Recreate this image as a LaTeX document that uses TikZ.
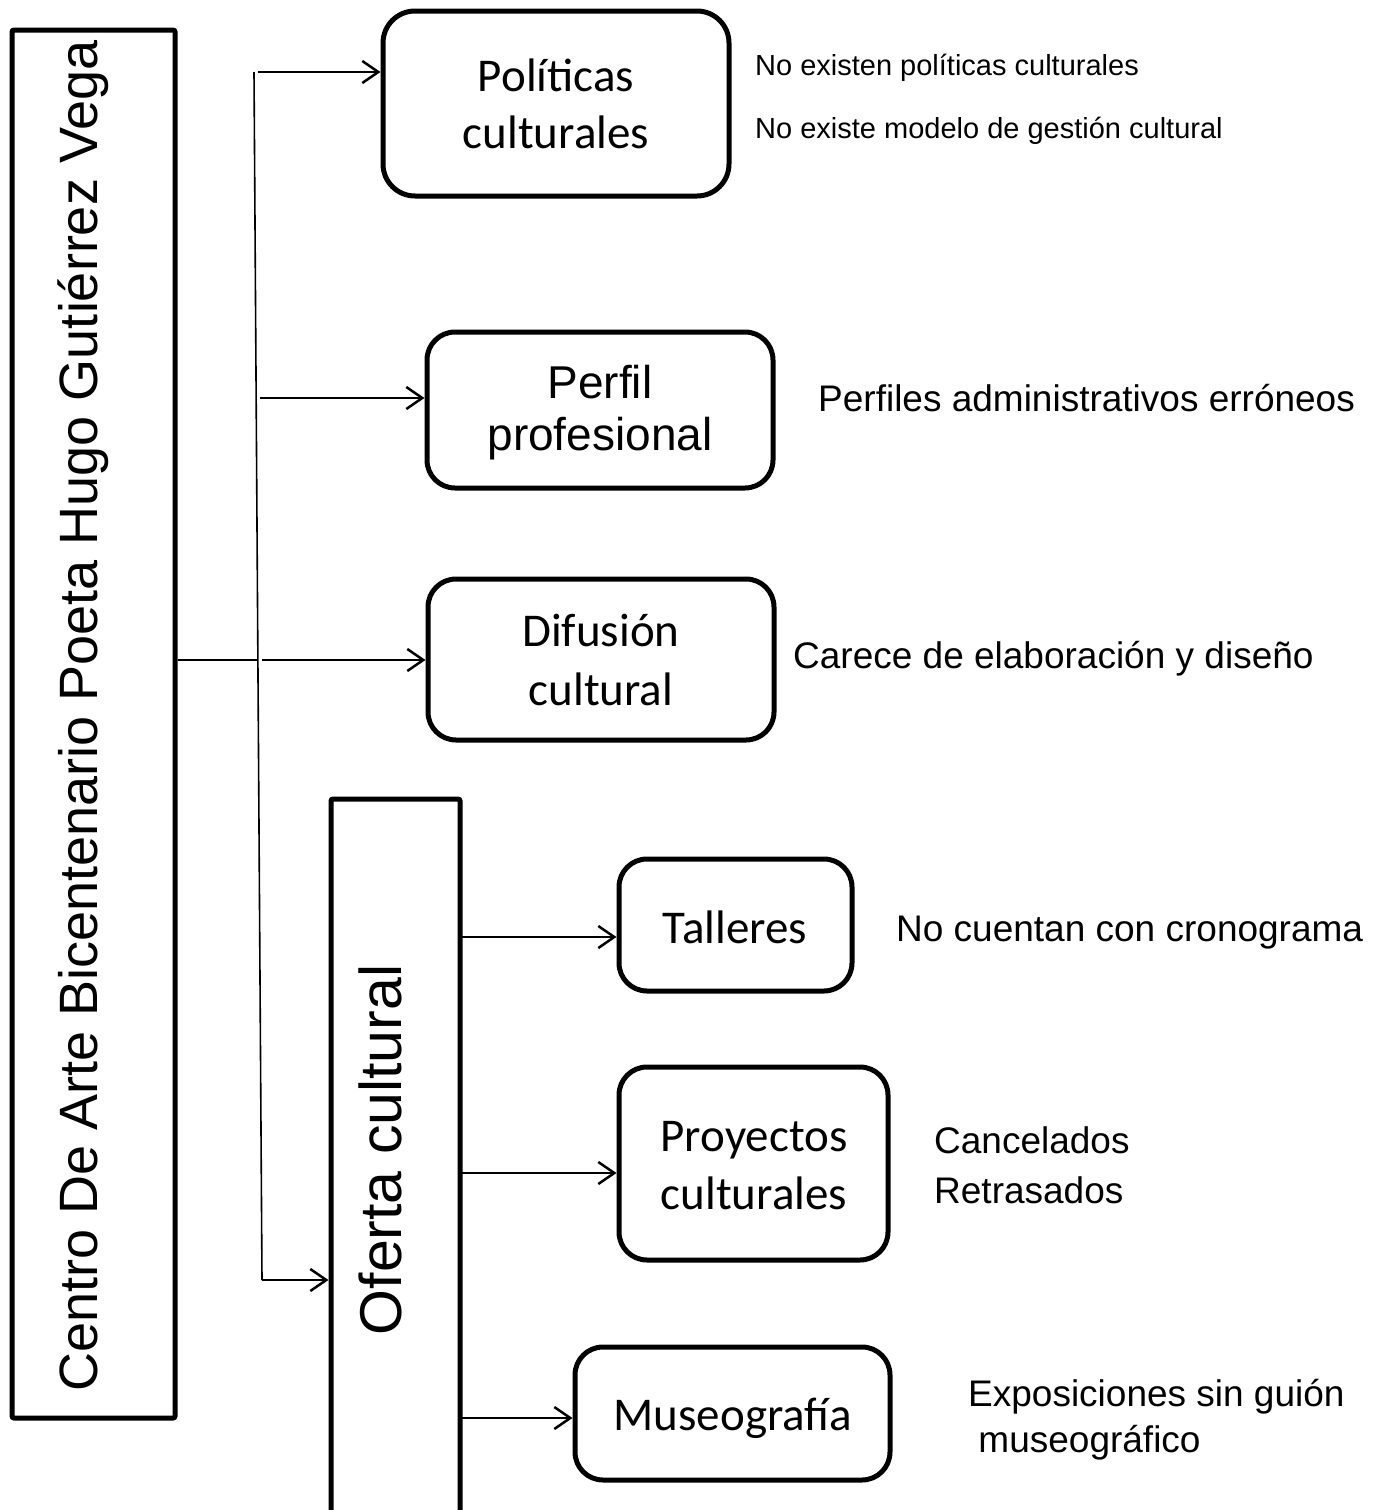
\documentclass[tikz,border=0pt]{standalone}
\usepackage{fontspec}
\setmainfont{Liberation Sans}
\newfontfamily\calfont{Carlito}
\usetikzlibrary{arrows.meta}
\begin{document}
\begin{tikzpicture}[x=1pt,y=-1pt,
  rbox/.style={draw, line width=5pt, rounded corners=28pt, inner sep=0pt},
  sbox/.style={draw, line width=5pt, rounded corners=2pt, inner sep=0pt},
  conn/.style={line width=2pt},
  trunk/.style={line width=1.6pt},
  arr/.style={line width=2pt, -{Straight Barb[length=16pt,width=22pt,line width=2.5pt]}},
  boxtxt/.style={font=\calfont\fontsize{47}{58}\selectfont, inner sep=0pt, anchor=base},
  arialtxt/.style={font=\fontsize{46}{55}\selectfont, inner sep=0pt, anchor=base},
  smallnote/.style={font=\fontsize{29}{35}\selectfont, inner sep=0pt, anchor=base west},
  note/.style={font=\fontsize{37}{44}\selectfont, inner sep=0pt, anchor=base west},
  vtxt/.style={rotate=90, inner sep=0pt, anchor=base}
]
\useasboundingbox (0,0) rectangle (1380,1510);
\fill[white] (0,0) rectangle (1380,1510);

% left main box
\node[sbox, minimum width=163pt, minimum height=1388pt] (cab) at (93.5,724) {};
\node[vtxt, font=\fontsize{54}{64}\selectfont] (cabt) at (97,716) {Centro De Arte Bicentenario Poeta Hugo Gutiérrez Vega};

% oferta box (open below the page)
\node[sbox, minimum width=129pt, minimum height=900pt] (of) at (395.5,1249) {};
\node[vtxt, font=\fontsize{59}{70}\selectfont] (oft) at (401,1150) {Oferta cultural};

% rounded boxes
\node[rbox, rounded corners=32pt, minimum width=346pt, minimum height=185pt] (pol) at (556,103.5) {};
\node[rbox, minimum width=346pt, minimum height=156pt] (per) at (600,410) {};
\node[rbox, minimum width=346pt, minimum height=161pt] (dif) at (601,659.5) {};
\node[rbox, minimum width=233pt, minimum height=132pt] (tal) at (735.5,925) {};
\node[rbox, minimum width=269pt, minimum height=193pt] (pro) at (753.5,1163.5) {};
\node[rbox, minimum width=315pt, minimum height=133pt] (mus) at (732.5,1413.5) {};

% box texts
\node[boxtxt] (polA) at (556,91) {Políticas};
\node[boxtxt] (polB) at (556,148) {culturales};
\node[arialtxt] (perA) at (600,398) {Perfil};
\node[arialtxt] (perB) at (600,450) {profesional};
\node[boxtxt] (difA) at (601,646) {Difusión};
\node[boxtxt] (difB) at (601,705) {cultural};
\node[boxtxt] (talA) at (735,943) {Talleres};
\node[boxtxt] (proA) at (754,1151) {Proyectos};
\node[boxtxt] (proB) at (754,1209) {culturales};
\node[boxtxt] (musA) at (733,1430) {Museografía};

% side notes
\node[smallnote] (n1) at (755,75) {No existen políticas culturales};
\node[smallnote] (n2) at (755,138) {No existe modelo de gestión cultural};
\node[note] (n3) at (818,411) {Perfiles administrativos erróneos};
\node[note] (n4) at (793,668) {Carece de elaboración y diseño};
\node[note] (n5) at (896,941) {No cuentan con cronograma};
\node[note] (n6) at (934,1153) {Cancelados};
\node[note] (n7) at (934,1203) {Retrasados};
\node[note] (n8) at (968,1406) {Exposiciones sin guión};
\node[note] (n9) at (968,1452) {\ museográfico};

% trunk and connectors
\coordinate (tTop) at (254,72);
\coordinate (tBot) at (262,1280);
\coordinate (j1) at (258,72);
\coordinate (j2) at (260,398);
\coordinate (j3) at (258,660);
\coordinate (j3b) at (262,660);
\draw[trunk] (tTop) -- (tBot);
\draw[conn] (cab.east |- j3) -- (j3);
\draw[arr] (j1) -- (pol.west |- j1);
\draw[arr] (j2) -- (per.west |- j2);
\draw[arr] (j3b) -- (dif.west |- j3b);
\draw[arr] (tBot) -- (of.west |- tBot);

\coordinate (o1) at (460,937);
\coordinate (o2) at (460,1173);
\coordinate (o3) at (460,1418);
\draw[arr] (o1) -- (tal.west |- o1);
\draw[arr] (o2) -- (pro.west |- o2);
\draw[arr] (o3) -- (mus.west |- o3);
\end{tikzpicture}
\end{document}
